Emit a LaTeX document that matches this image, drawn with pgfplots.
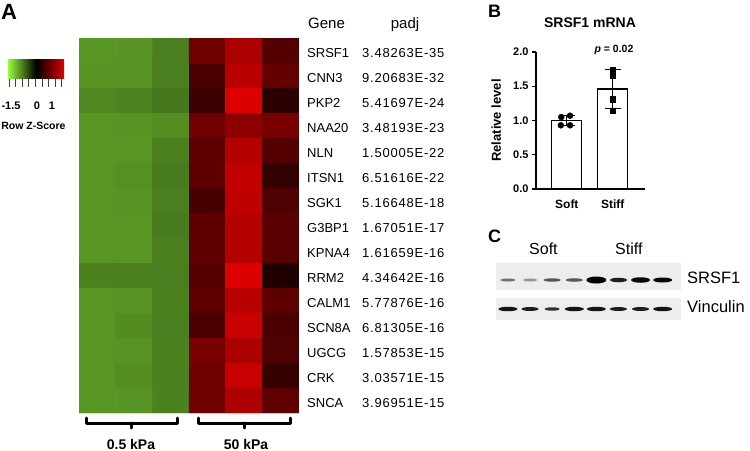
\documentclass[border=0pt]{standalone}
\usepackage{pgfplots}
\pgfplotsset{compat=1.18}
\usepackage{fontspec}
\setmainfont{Liberation Sans}

\definecolor{zlime}{RGB}{150,255,60}
\definecolor{zred}{RGB}{220,0,0}

\newcommand\fs[1]{\fontsize{#1bp}{#1bp}\selectfont}

% blot band: ellipse, half length = mark size, thickness = \bt (bp)
\pgfdeclareplotmark{band}{%
  \pgfpathellipse{\pgfpointorigin}{\pgfqpoint{\pgfplotmarksize}{0pt}}{\pgfpoint{0pt}{0.5*\bt bp}}%
  \pgfusepathqfill}

\pgfplotsset{
  blot/.style={
    scale only axis, anchor=north west, width=185bp,
    xmin=0.46, xmax=8.83, ymin=0, ymax=1,
    axis line style={draw=none}, ticks=none,
    axis background/.style={fill=black!7},
    colormap={blot}{gray(0cm)=(0.82); gray(1cm)=(0)},
    point meta min=0, point meta max=1,
  },
  band/.style={
    scatter, only marks, mark=band,
    point meta=\thisrow{k},
    scatter/use mapped color={draw=none, fill=mapped color},
    visualization depends on={\thisrow{t} \as \bt},
    visualization depends on={\thisrow{h} \as \bh},
    scatter/@pre marker code/.append style={/tikz/mark size=\bh bp},
  },
}

\begin{document}
\begin{tikzpicture}[x=1bp,y=1bp]
\path[use as bounding box] (0,0) rectangle (750,-451);

% ---------- A: heatmap
\begin{axis}[
    at={(79bp,-38bp)}, anchor=north west,
    scale only axis, width=220bp, height=375bp,
    xmin=-0.5, xmax=5.5, ymin=-0.5, ymax=14.5,
    y dir=reverse, hide axis,
    colormap={rowz}{rgb255(0cm)=(150,255,60); rgb255(1cm)=(0,0,0); rgb255(2cm)=(220,0,0)},
    point meta min=-1.85, point meta max=1.85,
  ]
  \addplot[matrix plot*, mesh/cols=6, point meta=explicit] table[meta=z] {
x y z
0 0 -1.09
1 0 -1.07
2 0 -0.91
3 0 0.93
4 0 1.43
5 0 0.71
0 1 -1.07
1 1 -1.07
2 1 -0.91
3 1 0.63
4 1 1.56
5 1 0.84
0 2 -0.98
1 2 -0.96
2 2 -0.86
3 2 0.50
4 2 1.85
5 2 0.38
0 3 -1.09
1 3 -1.07
2 3 -1.03
3 3 0.93
4 3 1.18
5 3 1.01
0 4 -1.09
1 4 -1.09
2 4 -0.93
3 4 0.80
4 4 1.51
5 4 0.71
0 5 -1.09
1 5 -1.05
2 5 -0.89
3 5 0.80
4 5 1.64
5 5 0.42
0 6 -1.09
1 6 -1.07
2 6 -0.91
3 6 0.59
4 6 1.60
5 6 0.67
0 7 -1.09
1 7 -1.09
2 7 -0.89
3 7 0.80
4 7 1.51
5 7 0.76
0 8 -1.09
1 8 -1.09
2 8 -0.93
3 8 0.80
4 8 1.51
5 8 0.76
0 9 -0.94
1 9 -0.93
2 9 -0.91
3 9 0.71
4 9 1.85
5 9 0.25
0 10 -1.09
1 10 -1.07
2 10 -0.93
3 10 0.80
4 10 1.56
5 10 0.80
0 11 -1.09
1 11 -1.02
2 11 -0.91
3 11 0.63
4 11 1.68
5 11 0.63
0 12 -1.09
1 12 -1.07
2 12 -0.94
3 12 1.01
4 12 1.43
5 12 0.67
0 13 -1.09
1 13 -1.03
2 13 -0.94
3 13 0.93
4 13 1.68
5 13 0.46
0 14 -1.09
1 14 -1.07
2 14 -0.94
3 14 0.93
4 14 1.47
5 14 0.80
  };
\end{axis}

\node[anchor=base west, inner sep=0, font=\fs{22}\bfseries] at (1,-20) {A};

% colour key
\shade[left color=zlime, right color=zred, middle color=black] (8,-60) rectangle (64,-79);
\foreach \k in {0,...,8} \draw[black!75, line width=0.8bp] ({9+6.6*\k},-79) -- ({9+6.6*\k},-87);
\node[anchor=base, inner sep=0, font=\fs{11}\bfseries] at (11,-110) {-1.5};
\node[anchor=base, inner sep=0, font=\fs{11}\bfseries] at (37,-110) {0};
\node[anchor=base, inner sep=0, font=\fs{11}\bfseries] at (52,-110) {1};
\node[anchor=base, inner sep=0, font=\fs{10.5}\bfseries] at (33.5,-130) {Row Z-Score};

% gene table
\node[anchor=base west, inner sep=0, font=\fs{15}] at (308,-29) {Gene};
\node[anchor=base, inner sep=0, font=\fs{15}] at (405,-29) {padj};
\foreach \g/\p [count=\i from 0] in {SRSF1/3.48263E-35, CNN3/9.20683E-32, PKP2/5.41697E-24,
    NAA20/3.48193E-23, NLN/1.50005E-22, ITSN1/6.51616E-22, SGK1/5.16648E-18,
    G3BP1/1.67051E-17, KPNA4/1.61659E-16, RRM2/4.34642E-16, CALM1/5.77876E-16,
    SCN8A/6.81305E-16, UGCG/1.57853E-15, CRK/3.03571E-15, SNCA/3.96951E-15} {
  \node[anchor=base west, inner sep=0, font=\fs{13}] at (307,{-57.7-25*\i}) {\g};
  \node[anchor=base west, inner sep=0, font=\fs{13}\addfontfeatures{LetterSpace=6}] at (362,{-57.7-25*\i}) {\p};
}

% brackets
\draw[line width=3bp, line cap=round, line join=round] (86,-418) -- (86,-423) -- (177,-423) -- (177,-418);
\draw[line width=3bp, line cap=round] (131,-423) -- (131,-428);
\draw[line width=3bp, line cap=round, line join=round] (198,-418) -- (198,-423) -- (290,-423) -- (290,-418);
\draw[line width=3bp, line cap=round] (244,-423) -- (244,-428);
\node[anchor=base, inner sep=0, font=\fs{14}\bfseries] at (131,-449) {0.5 kPa};
\node[anchor=base, inner sep=0, font=\fs{14}\bfseries] at (246,-449) {50 kPa};

% ---------- B: bar chart
\node[anchor=base west, inner sep=0, font=\fs{18}\bfseries] at (488,-18) {B};
\node[anchor=base, inner sep=0, font=\fs{14}\bfseries] at (590,-28) {SRSF1 mRNA};
\begin{axis}[
    at={(536bp,-189bp)}, anchor=south west,
    scale only axis, width=109bp, height=137bp,
    xmin=-0.67, xmax=1.7, ymin=0, ymax=2,
    axis lines*=left,
    axis line style={line width=1.3bp},
    ytick={0,0.5,1,1.5,2},
    /pgf/number format/assume math mode=true,
    yticklabel style={font=\fs{11}\bfseries, /pgf/number format/fixed,
      /pgf/number format/fixed zerofill, /pgf/number format/precision=1},
    xtick={0,1}, xticklabels={Soft,Stiff},
    xticklabel style={font=\fs{12}\bfseries, yshift=-3bp},
    x tick style={draw=none},
    y tick style={line width=1.3bp, black},
    tick align=outside, major tick length=4bp,
    ylabel={Relative level},
    ylabel style={font=\fs{13}\bfseries, at={(axis description cs:-0.366,0.5)}, anchor=center},
    clip=false,
  ]
  \addplot[ybar, bar width=30bp, fill=white, draw=black, line width=1.2bp,
    error bars/.cd, y dir=both, y explicit,
    error bar style={line width=1.2bp},
    error mark options={rotate=90, mark size=8bp, line width=1.2bp}]
    coordinates {(0,1.00) +- (0,0.07) (1,1.46) +- (0,0.28)};
  \addplot[only marks, mark=*, mark size=3bp, black]
    coordinates {(-0.12,1.05) (0.07,1.07) (-0.13,0.93) (0.07,0.93)};
  \addplot[only marks, mark=square*, mark size=2.6bp, black]
    coordinates {(1,1.74) (1,1.65) (1,1.31) (1,1.14)};
\end{axis}
\node[anchor=base, inner sep=0, font=\fs{10.5}\bfseries] at (614,-53) {\textit{p} = 0.02};

% ---------- C: western blot
\node[anchor=base west, inner sep=0, font=\fs{18}\bfseries] at (488,-243) {C};
\node[anchor=base west, inner sep=0, font=\fs{16}] at (529,-255) {Soft};
\node[anchor=base west, inner sep=0, font=\fs{16}] at (615,-255) {Stiff};

\begin{axis}[blot, at={(496bp,-263bp)}, height=27bp]
  \addplot[band] table {
lane y k t h
1 0.37 0.45 3 7.5
2 0.37 0.30 2.8 7
3 0.37 0.58 3.5 8.5
4 0.37 0.58 3.5 8.5
5 0.37 1.00 7 10
6 0.37 0.85 4.5 8.5
7 0.37 0.95 5.5 9.5
8 0.37 0.95 5 9.5
  };
\end{axis}
\begin{axis}[blot, at={(496bp,-298bp)}, height=22bp]
  \addplot[band] table {
lane y k t h
1 0.5 0.90 4.5 9.5
2 0.5 0.85 4 8.5
3 0.5 0.75 3.5 7.5
4 0.5 0.90 4.5 9.5
5 0.5 0.90 4.5 9.5
6 0.5 0.85 4 8.5
7 0.5 0.85 4 8.5
8 0.5 0.90 4.5 9.5
  };
\end{axis}
\node[anchor=base west, inner sep=0, font=\fs{16.5}] at (687,-284) {SRSF1};
\node[anchor=base west, inner sep=0, font=\fs{16.5}] at (687,-313) {Vinculin};

\end{tikzpicture}
\end{document}
